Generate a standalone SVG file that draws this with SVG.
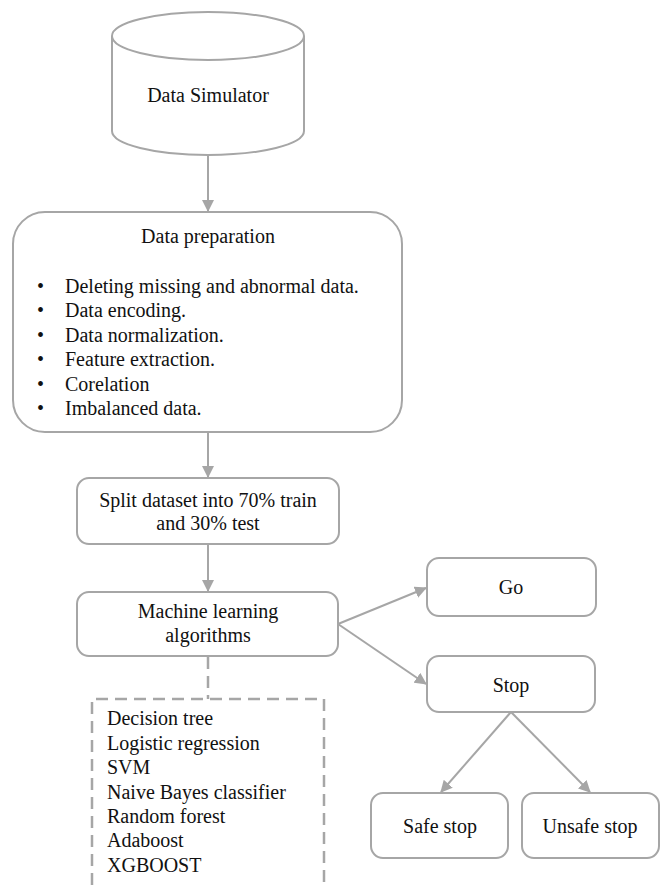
<svg xmlns="http://www.w3.org/2000/svg" width="661" height="885" viewBox="0 0 661 885">
<defs>
<style>
.box{fill:#fff;stroke:#a6a6a6;stroke-width:2}
.ln{fill:none;stroke:#a6a6a6;stroke-width:2}
.dash{fill:none;stroke:#a6a6a6;stroke-width:2.5;stroke-dasharray:12 7}
.t{font-family:'Liberation Serif','Times New Roman','DejaVu Serif',serif;font-size:20px;fill:#111}
.c{text-anchor:middle}
</style>
<marker id="ah" markerWidth="12" markerHeight="12" viewBox="0 0 12 12" refX="11" refY="6" orient="auto" markerUnits="userSpaceOnUse">
<path d="M0,0 L12,6 L0,12 Z" fill="#a6a6a6"/>
</marker>
</defs>
<rect width="661" height="885" fill="#fff"/>
<g id="connectors">
<line class="ln" x1="208" y1="155" x2="208" y2="211" marker-end="url(#ah)"/>
<line class="ln" x1="208" y1="432" x2="208" y2="477" marker-end="url(#ah)"/>
<line class="ln" x1="208" y1="544" x2="208" y2="591" marker-end="url(#ah)"/>
<line class="ln" x1="338" y1="624" x2="426" y2="588" marker-end="url(#ah)"/>
<line class="ln" x1="338" y1="624" x2="426" y2="684" marker-end="url(#ah)"/>
<line class="ln" x1="511" y1="712" x2="441" y2="792" marker-end="url(#ah)"/>
<line class="ln" x1="511" y1="712" x2="590" y2="792" marker-end="url(#ah)"/>
<line class="dash" x1="208" y1="657" x2="208" y2="699"/>
</g>
<g class="t" font-family="Liberation Serif, Times New Roman, DejaVu Serif, serif">
<g id="data-simulator">
<path class="box" d="M112,36 L112,131 A96,24 0 0 0 304,131 L304,36"/>
<ellipse class="box" cx="208" cy="36" rx="96" ry="24"/>
<text class="c" x="208" y="102">Data Simulator</text>
</g>
<g id="data-preparation">
<rect class="box" x="13" y="212" width="389" height="220" rx="32"/>
<text class="c" x="208" y="243">Data preparation</text>
<text x="37" y="293">•</text><text x="65" y="293">Deleting missing and abnormal data.</text>
<text x="37" y="317">•</text><text x="65" y="317">Data encoding.</text>
<text x="37" y="342">•</text><text x="65" y="342">Data normalization.</text>
<text x="37" y="366">•</text><text x="65" y="366">Feature extraction.</text>
<text x="37" y="391">•</text><text x="65" y="391">Corelation</text>
<text x="37" y="415">•</text><text x="65" y="415">Imbalanced data.</text>
</g>
<g id="split">
<rect class="box" x="77" y="478" width="262" height="66" rx="12"/>
<text class="c" x="208" y="507">Split dataset into 70% train</text>
<text class="c" x="208" y="530">and 30% test</text>
</g>
<g id="ml">
<rect class="box" x="77" y="592" width="261" height="64" rx="12"/>
<text class="c" x="208" y="618">Machine learning</text>
<text class="c" x="208" y="642">algorithms</text>
</g>
<g id="algorithms">
<path class="dash" d="M92,885 L92,699 L324,699 L324,885"/>
<text x="107" y="725">Decision tree</text>
<text x="107" y="750">Logistic regression</text>
<text x="107" y="774">SVM</text>
<text x="107" y="799">Naive Bayes classifier</text>
<text x="107" y="823">Random forest</text>
<text x="107" y="847">Adaboost</text>
<text x="107" y="872">XGBOOST</text>
</g>
<g id="go">
<rect class="box" x="427" y="558" width="169" height="58" rx="12"/>
<text class="c" x="511" y="594">Go</text>
</g>
<g id="stop">
<rect class="box" x="427" y="656" width="168" height="56" rx="12"/>
<text class="c" x="511" y="692">Stop</text>
</g>
<g id="safe-stop">
<rect class="box" x="371" y="793" width="137" height="65" rx="12"/>
<text class="c" x="440" y="833">Safe stop</text>
</g>
<g id="unsafe-stop">
<rect class="box" x="522" y="793" width="137" height="65" rx="12"/>
<text class="c" x="590" y="833">Unsafe stop</text>
</g>
</g>
</svg>
